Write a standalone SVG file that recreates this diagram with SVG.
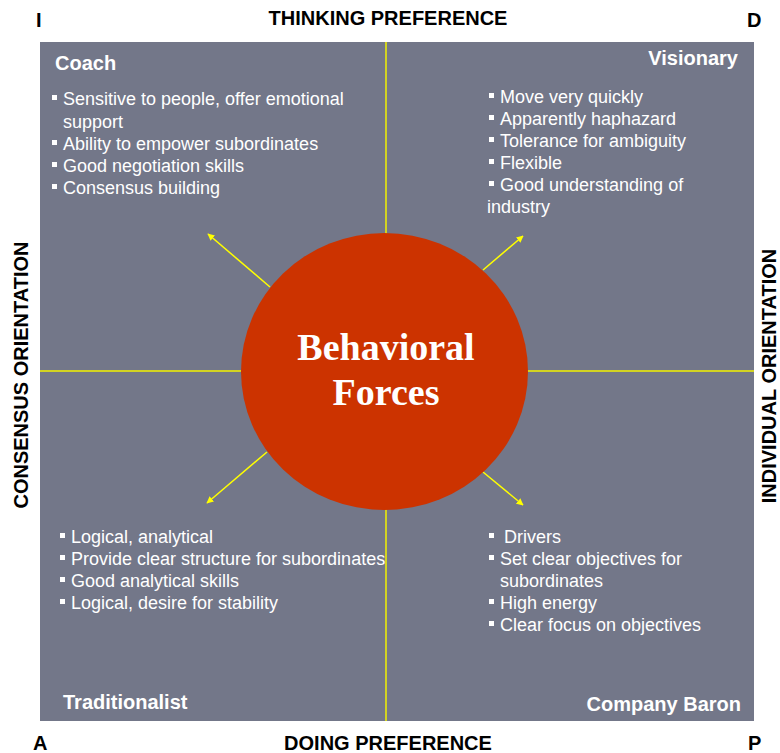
<svg xmlns="http://www.w3.org/2000/svg" width="780" height="753" viewBox="0 0 780 753">
  <style>
    .axis { font-family: "Liberation Sans", Arial, sans-serif; font-weight: bold; font-size: 20px; fill: #000; }
    .corner { font-family: "Liberation Sans", Arial, sans-serif; font-weight: bold; font-size: 20px; fill: #000; }
    .title { font-family: "Liberation Sans", Arial, sans-serif; font-weight: bold; font-size: 20px; fill: #fff; }
    .item { font-family: "Liberation Sans", Arial, sans-serif; font-size: 18px; fill: #fff; }
    .bullet { fill: #fff; }
    .grid { stroke: #f2f200; stroke-width: 1.5; fill: none; }
    .force { stroke: #ffff00; stroke-width: 1.5; fill: none; marker-end: url(#head); }
    .center-text { font-family: "Liberation Serif", "DejaVu Serif", serif; font-weight: bold; font-size: 38px; fill: #fff; text-anchor: middle; }
  </style>
  <defs>
    <marker id="head" viewBox="0 0 10 10" refX="9" refY="5" markerWidth="7" markerHeight="7" markerUnits="userSpaceOnUse" orient="auto">
      <path d="M0,0 L10,5 L0,10 z" fill="#ffff00"/>
    </marker>
  </defs>

  <rect width="780" height="753" fill="#fff"/>

  <!-- Axis labels and corner letters -->
  <g id="axes">
    <text class="axis" x="388" y="25" text-anchor="middle">THINKING PREFERENCE</text>
    <text class="axis" x="388" y="750" text-anchor="middle">DOING PREFERENCE</text>
    <text class="axis" transform="translate(28,375) rotate(-90)" text-anchor="middle">CONSENSUS ORIENTATION</text>
    <text class="axis" transform="translate(776,376) rotate(-90)" text-anchor="middle">INDIVIDUAL ORIENTATION</text>
    <text class="corner" x="36" y="27">I</text>
    <text class="corner" x="747" y="27">D</text>
    <text class="corner" x="33" y="750">A</text>
    <text class="corner" x="748" y="750">P</text>
  </g>

  <!-- Quadrant field -->
  <rect x="40" y="42" width="714" height="679" fill="#737789"/>

  <!-- Quadrant dividers and force arrows -->
  <g id="connectors">
    <line class="grid" x1="386" y1="42" x2="386" y2="721"/>
    <line class="grid" x1="40" y1="371" x2="754" y2="371"/>
    <line class="force" x1="270" y1="287" x2="208" y2="234"/>
    <line class="force" x1="483" y1="270" x2="523" y2="236"/>
    <line class="force" x1="267" y1="452" x2="207" y2="503"/>
    <line class="force" x1="483" y1="472" x2="523" y2="505"/>
  </g>

  <!-- Central node -->
  <g id="behavioral-forces">
    <ellipse cx="384.5" cy="371.5" rx="143.5" ry="138.5" fill="#cc3300"/>
    <text class="center-text" x="386" y="360">Behavioral</text>
    <text class="center-text" x="386" y="405">Forces</text>
  </g>

  <!-- Coach (top left) -->
  <g id="coach">
    <text class="title" x="55" y="70">Coach</text>
    <rect class="bullet" x="52" y="95" width="5" height="5"/>
    <text class="item" x="63" y="105">Sensitive to people, offer emotional</text>
    <text class="item" x="63" y="128">support</text>
    <rect class="bullet" x="52" y="140" width="5" height="5"/>
    <text class="item" x="63" y="150">Ability to empower subordinates</text>
    <rect class="bullet" x="52" y="162" width="5" height="5"/>
    <text class="item" x="63" y="172">Good negotiation skills</text>
    <rect class="bullet" x="52" y="184" width="5" height="5"/>
    <text class="item" x="63" y="194">Consensus building</text>
  </g>

  <!-- Visionary (top right) -->
  <g id="visionary">
    <text class="title" x="738" y="65" text-anchor="end">Visionary</text>
    <rect class="bullet" x="489" y="93" width="5" height="5"/>
    <text class="item" x="500" y="103">Move very quickly</text>
    <rect class="bullet" x="489" y="115" width="5" height="5"/>
    <text class="item" x="500" y="125">Apparently haphazard</text>
    <rect class="bullet" x="489" y="137" width="5" height="5"/>
    <text class="item" x="500" y="147">Tolerance for ambiguity</text>
    <rect class="bullet" x="489" y="159" width="5" height="5"/>
    <text class="item" x="500" y="169">Flexible</text>
    <rect class="bullet" x="489" y="181" width="5" height="5"/>
    <text class="item" x="500" y="191">Good understanding of</text>
    <text class="item" x="487" y="213">industry</text>
  </g>

  <!-- Traditionalist (bottom left) -->
  <g id="traditionalist">
    <rect class="bullet" x="60" y="533" width="5" height="5"/>
    <text class="item" x="71" y="543">Logical, analytical</text>
    <rect class="bullet" x="60" y="555" width="5" height="5"/>
    <text class="item" x="71" y="565">Provide clear structure for subordinates</text>
    <rect class="bullet" x="60" y="577" width="5" height="5"/>
    <text class="item" x="71" y="587">Good analytical skills</text>
    <rect class="bullet" x="60" y="599" width="5" height="5"/>
    <text class="item" x="71" y="609">Logical, desire for stability</text>
    <text class="title" x="63" y="709">Traditionalist</text>
  </g>

  <!-- Company Baron (bottom right) -->
  <g id="company-baron">
    <rect class="bullet" x="489" y="533" width="5" height="5"/>
    <text class="item" x="504" y="543">Drivers</text>
    <rect class="bullet" x="489" y="555" width="5" height="5"/>
    <text class="item" x="500" y="565">Set clear objectives for</text>
    <text class="item" x="500" y="587">subordinates</text>
    <rect class="bullet" x="489" y="599" width="5" height="5"/>
    <text class="item" x="500" y="609">High energy</text>
    <rect class="bullet" x="489" y="621" width="5" height="5"/>
    <text class="item" x="500" y="631">Clear focus on objectives</text>
    <text class="title" x="741" y="711" text-anchor="end">Company Baron</text>
  </g>
</svg>
